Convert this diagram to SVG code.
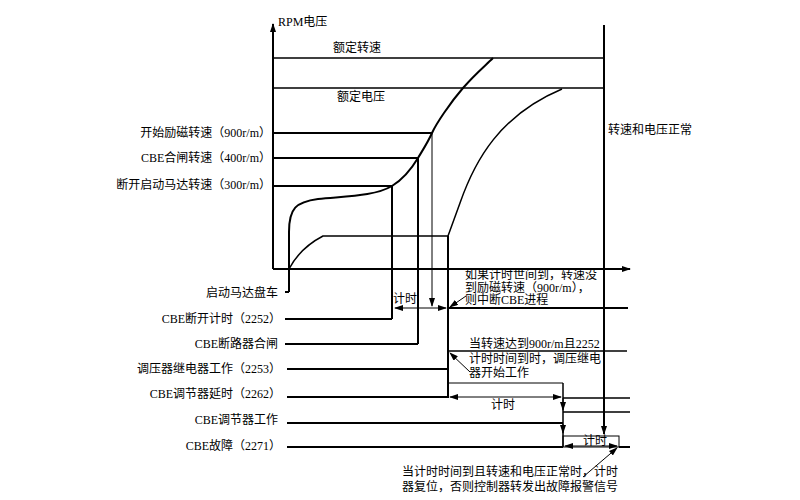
<svg xmlns="http://www.w3.org/2000/svg" width="800" height="500" viewBox="0 0 800 500">
<defs>
<marker id="ah" markerUnits="userSpaceOnUse" markerWidth="9" markerHeight="6" refX="8" refY="3" orient="auto-start-reverse"><path d="M0,0 L9,3 L0,6 z" fill="#000"/></marker>
<style>
text{font-family:"Liberation Serif","Noto Sans CJK SC",serif;font-size:12px;fill:#000}
.r{text-anchor:end}
.m{text-anchor:middle}
.t{fill:none;stroke:#000;stroke-width:2}
.n{fill:none;stroke:#000;stroke-width:1.5}
.h{fill:none;stroke:#000;stroke-width:1}
</style>
</defs>
<rect width="800" height="500" fill="#fff"/>
<g id="axes">
<path class="t" d="M273,269 L273,24" marker-end="url(#ah)"/>
<path class="t" d="M273,269 L630,269" marker-end="url(#ah)"/>
<text x="278" y="26">RPM电压</text>
</g>
<g id="rated">
<path class="n" d="M273,58 L604,58 M273,88 L604,88"/>
<text class="m" x="357" y="52">额定转速</text>
<text class="m" x="361" y="101">额定电压</text>
</g>
<g id="right-line">
<path class="t" d="M604,25 L604,434" marker-end="url(#ah)"/>
<text x="608" y="134">转速和电压正常</text>
</g>
<g id="speed-levels">
<path class="t" d="M273,133 L432,133 M273,158 L418,158 M273,186 L392,186"/>
<text class="r" x="271" y="137">开始励磁转速（900r/m）</text>
<text class="r" x="271" y="162">CBE合闸转速（400r/m）</text>
<text class="r" x="271" y="189">断开启动马达转速（300r/m）</text>
</g>
<g id="curves">
<path class="t" d="M289,292 L289,232 C289,208 296,202 318,199 C348,196 375,196 392,186 C405,178 412,168 418,158 S428,142 432,133 S450,103 463,88 S485,66 493,58"/>
<path class="n" d="M289,269 Q300,248 323,236 L448,236 L460,203 C475,160 500,115 562,89"/>
</g>
<g id="connectors">
<path class="t" d="M392,186 L392,319 M418,158 L418,344 M448,236 L448,398"/>
<path class="h" d="M432,133 L432,306" marker-end="url(#ah)"/>
<path class="t" d="M285,292 L289,292 M285,319 L392,319 M285,344 L418,344 M287,369 L448,369 M287,397 L448,397 M287,423 L563,423 M287,447 L563,447 M619,447 L630,447"/>
<path class="t" d="M448,308 L628,308"/>
<path class="h" d="M395,308 L446,308" marker-start="url(#ah)" marker-end="url(#ah)"/>
<path class="n" d="M448,351 L627,351"/>
<path class="h" d="M448,383 L563,383"/>
<path class="n" d="M563,383 L563,447"/>
<path class="h" d="M563,398 L563,410" marker-end="url(#ah)"/>
<path class="h" d="M563,424 L563,433" marker-end="url(#ah)"/>
<path class="h" d="M450,397 L561,397" marker-start="url(#ah)" marker-end="url(#ah)"/>
<path class="n" d="M563,398 L630,398 M563,412 L630,412"/>
<rect class="h" x="563" y="436" width="56" height="11"/>
<path class="h" d="M565,446 L617,446" marker-start="url(#ah)" marker-end="url(#ah)"/>
<path class="h" d="M466,296 L450,307" marker-end="url(#ah)"/>
<path class="h" d="M470,372 L450,353" marker-end="url(#ah)"/>
<path class="h" d="M583,477 L617,448" marker-end="url(#ah)"/>
</g>
<g id="signals">
<text class="r" x="278" y="297">启动马达盘车</text>
<text class="r" x="281" y="323">CBE断开计时（2252）</text>
<text class="r" x="278" y="348">CBE断路器合闸</text>
<text class="r" x="281" y="373">调压器继电器工作（2253）</text>
<text class="r" x="281" y="398">CBE调节器延时（2262）</text>
<text class="r" x="278" y="424">CBE调节器工作</text>
<text class="r" x="281" y="450">CBE故障（2271）</text>
</g>
<g id="notes">
<text x="393" y="303">计时</text>
<text class="m" x="503" y="409">计时</text>
<text class="m" x="595" y="445">计时</text>
<text x="465" y="279">如果计时世间到，转速没</text>
<text x="465" y="292">到励磁转速（900r/m），</text>
<text x="465" y="304">则中断CBE进程</text>
<text x="469" y="348">当转速达到900r/m且2252</text>
<text x="469" y="363">计时时间到时，调压继电</text>
<text x="469" y="377">器开始工作</text>
<text x="402" y="476">当计时时间到且转速和电压正常时，计时</text>
<text x="402" y="491">器复位，否则控制器转发出故障报警信号</text>
</g>
</svg>
